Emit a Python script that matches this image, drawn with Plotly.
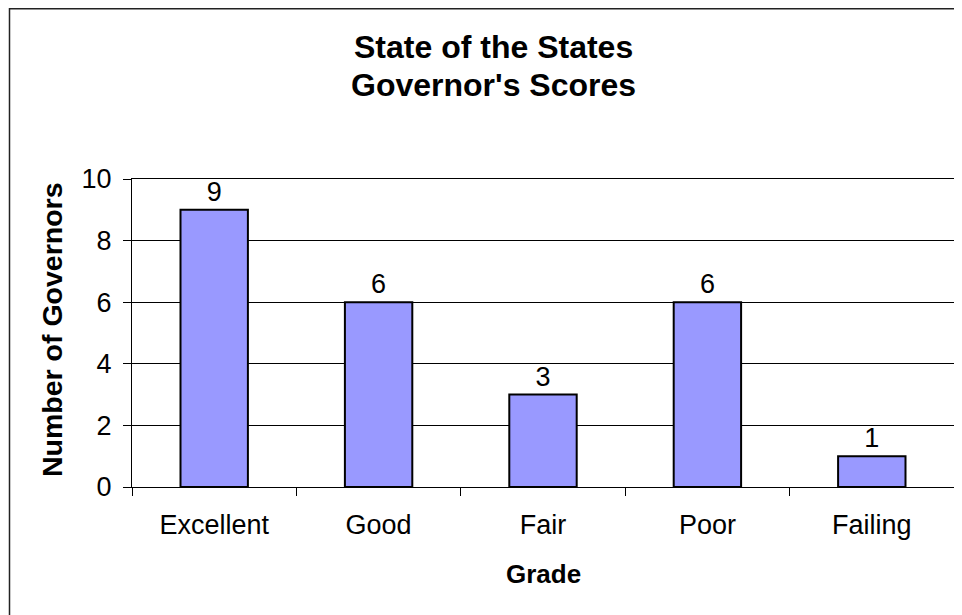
import plotly.graph_objects as go

categories = ["Excellent", "Good", "Fair", "Poor", "Failing"]
governors = [9, 6, 3, 6, 1]
y_ticks = [0, 2, 4, 6, 8, 10]
title_lines = ["State of the States", "Governor's Scores"]

FONT = "Liberation Sans, Arial, sans-serif"

# plot area in figure pixel coords
L, R, T, B = 124, 946, 171, 479
W, H = 962, 615
PW, PH = R - L, B - T

fig = go.Figure()
fig.add_trace(go.Bar(
    x=categories, y=governors,
    text=[str(v) for v in governors], textposition="outside",
    textfont=dict(size=27, color="black", family=FONT),
    marker=dict(color="#9999FF", line=dict(color="black", width=2)),
    width=0.41, cliponaxis=False,
))

title_y = [39, 77]  # figure px centres of the two title lines

fig.update_layout(
    width=W, height=H,
    margin=dict(l=L, r=W - R, t=T, b=H - B),
    paper_bgcolor="white", plot_bgcolor="white",
    font=dict(family=FONT, color="black", size=27),
    showlegend=False,
    xaxis=dict(
        showline=True, linecolor="black", linewidth=1, mirror=True,
        ticks="outside", ticklen=8, tickcolor="black", tickson="boundaries",
        tickfont=dict(size=27), showgrid=False, ticklabelstandoff=14,
    ),
    yaxis=dict(
        range=[0, 10], tickvals=y_ticks,
        showline=True, linecolor="black", linewidth=1, mirror=True,
        ticks="outside", ticklen=8, tickcolor="black",
        showgrid=True, gridcolor="black", gridwidth=1,
        tickfont=dict(size=27), zeroline=False, ticklabelstandoff=6,
    ),
    shapes=[dict(type="rect", xref="paper", yref="paper",
                 x0=(1.5 - L) / PW, x1=1.2, y0=-1.0, y1=(B - 0.75) / PH,
                 line=dict(color="#222", width=1.5), layer="below")],
    annotations=[
        dict(text=f"<b>{line}</b>", xref="paper", yref="paper",
             x=(485 - L) / PW, y=(B - yy) / PH,
             xanchor="center", yanchor="middle", showarrow=False,
             font=dict(size=32, family=FONT, color="black"))
        for line, yy in zip(title_lines, title_y)
    ] + [
        dict(text="<b>Number of Governors</b>", textangle=-90,
             xref="paper", yref="paper", x=(44 - L) / PW, y=(B - 322) / PH,
             xanchor="center", yanchor="middle", showarrow=False,
             font=dict(size=28.5, family=FONT, color="black")),
        dict(text="<b>Grade</b>",
             xref="paper", yref="paper", x=0.5, y=(B - 566) / PH,
             xanchor="center", yanchor="middle", showarrow=False,
             font=dict(size=26, family=FONT, color="black")),
    ],
)

fig.write_html("out.html")
